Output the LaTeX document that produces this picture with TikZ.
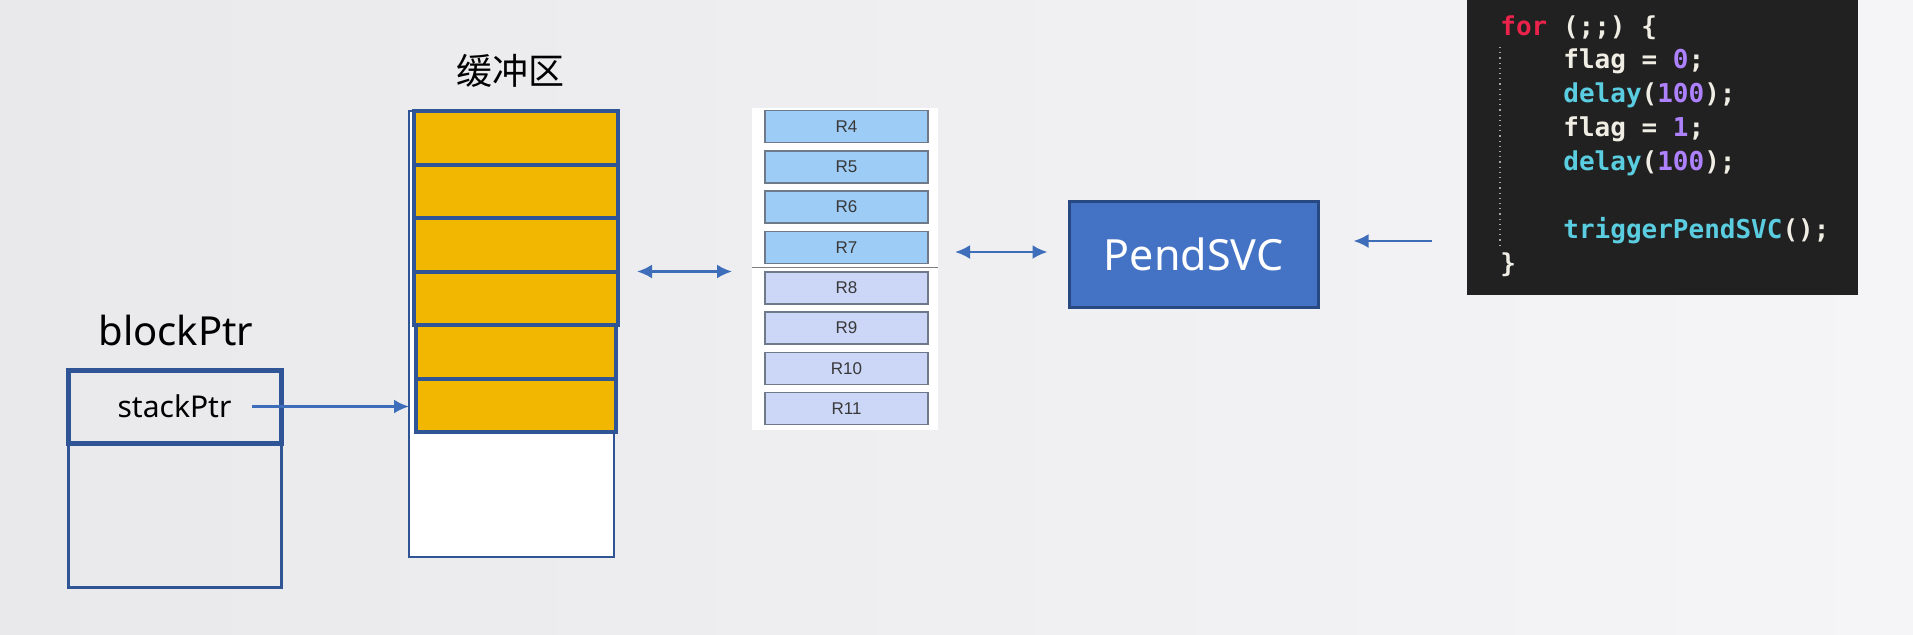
\documentclass[tikz,border=0pt]{standalone}
\usepackage{fontspec}
\setmainfont{Noto Sans}
\newfontfamily\cjk{Noto Sans CJK SC}
\newfontfamily\regfont{Liberation Sans}
\newfontfamily\codefont{DejaVu Sans Mono}
\usetikzlibrary{positioning,arrows.meta}

\definecolor{frameblue}{RGB}{47,85,151}
\definecolor{cellorange}{RGB}{242,183,0}
\definecolor{svcblue}{RGB}{68,114,196}
\definecolor{svcedge}{RGB}{40,72,130}
\definecolor{arrowblue}{RGB}{62,110,185}
\definecolor{regtop}{RGB}{157,204,246}
\definecolor{regbot}{RGB}{204,215,248}
\definecolor{regedge}{RGB}{110,122,138}
\definecolor{codebg}{RGB}{33,33,33}
\definecolor{codetxt}{RGB}{240,238,228}
\definecolor{codekey}{RGB}{235,35,75}
\definecolor{codenum}{RGB}{174,129,255}
\definecolor{codefun}{RGB}{90,205,225}

\tikzset{
  cell/.style={draw=frameblue,line width=2pt,fill=cellorange,minimum width=102pt,
    minimum height=26.75pt,inner sep=0pt,outer sep=0pt},
  ptrcell/.style={draw=frameblue,minimum width=106.5pt,inner sep=0pt,outer sep=0pt},
  reg/.style={draw=regedge,line width=0.8pt,minimum width=81.5pt,minimum height=16pt,
    inner sep=0pt,outer sep=0pt,text=black!78,font=\regfont\fontsize{8.5}{10}\selectfont},
  codeline/.style={anchor=base west,inner sep=0pt,text=codetxt,
    font=\codefont\bfseries\fontsize{13}{17}\selectfont},
  ptrarrow/.style={draw=arrowblue,line width=1.2pt,-{Latex[length=7.5pt,width=7pt]}},
  dblarrow/.style={ptrarrow,{Latex[length=7.5pt,width=7pt]}-{Latex[length=7.5pt,width=7pt]}},
}

\begin{document}
\begin{tikzpicture}[x=0.5pt,y=-0.5pt]
      \useasboundingbox (0,0) rectangle (1913,634);
      \shade[left color={rgb,255:red,233;green,233;blue,235},
        right color={rgb,255:red,245;green,245;blue,247}] (0,0) rectangle (1913,634);

      % code window
      \node[fill=codebg,minimum width=195.5pt,minimum height=150pt,inner sep=0pt,outer sep=0pt] (code) at (1662.5,145) {};
      \node[codeline] (l1) at (1500,35) {\textcolor{codekey}{for} (;;) \{};
      \node[codeline] (l2) at (1563,68.5) {flag = \textcolor{codenum}{0};};
      \node[codeline] (l3) at (1563,102.5) {\textcolor{codefun}{delay}(\textcolor{codenum}{100});};
      \node[codeline] (l4) at (1563,136.5) {flag = \textcolor{codenum}{1};};
      \node[codeline] (l5) at (1563,170) {\textcolor{codefun}{delay}(\textcolor{codenum}{100});};
      \node[codeline] (l6) at (1563,238) {\textcolor{codefun}{triggerPendSVC}();};
      \node[codeline] (l7) at (1500,272) {\}};
      \draw[gray!70,dotted,line width=0.6pt] ([yshift=-6pt]l1.base west) -- ([yshift=12pt]l7.base west);

      % buffer
      \node[anchor=base,font=\cjk\fontsize{18}{20}\selectfont] (buflabel) at (510,84) {缓冲区};
      \node[draw=frameblue,line width=1pt,fill=white,minimum width=102.5pt,minimum height=223pt,outer sep=0pt] (buf) at (511.5,334) {};
      \node[cell] (c1) at (516,137.75) {};
      \node[cell,below=0pt of c1] (c2) {};
      \node[cell,below=0pt of c2] (c3) {};
      \node[cell,below=0pt of c3] (c4) {};
      \node[cell,below=0pt of c4,minimum width=100pt] (c5) {};
      \node[cell,below=0pt of c5,minimum width=100pt] (c6) {};

      % block
      \node[ptrcell,line width=1.5pt,minimum height=72pt] (blk) at (174.5,515) {};
      \node[ptrcell,line width=2.5pt,minimum height=36.5pt,above=0pt of blk,
        font=\fontsize{15}{18}\selectfont] (sp) {stackPtr};
      \node[anchor=base,font=\fontsize{20}{24}\selectfont] (blklabel) at (176,345) {blockPtr};

      % registers
      \node[fill=white,minimum width=93pt,minimum height=161pt,outer sep=0pt] (regs) at (845,269) {};
      \node[reg,fill=regtop] (r4) at (846.5,126.5) {R4};
      \node[reg,fill=regtop,below=4.15pt of r4] (r5) {R5};
      \node[reg,fill=regtop,below=4.15pt of r5] (r6) {R6};
      \node[reg,fill=regtop,below=4.15pt of r6] (r7) {R7};
      \node[reg,fill=regbot,below=4.15pt of r7] (r8) {R8};
      \node[reg,fill=regbot,below=4.15pt of r8] (r9) {R9};
      \node[reg,fill=regbot,below=4.15pt of r9] (r10) {R10};
      \node[reg,fill=regbot,below=4.15pt of r10] (r11) {R11};
      \draw[gray,line width=0.9pt] ([yshift=-2pt]r7.south -| regs.west) -- ([yshift=-2pt]r7.south -| regs.east);

      % PendSVC
      \node[draw=svcedge,line width=1.5pt,fill=svcblue,text=white,minimum width=124.5pt,
        minimum height=53pt,font=\fontsize{21.5}{26}\selectfont] (svc) at (1193.5,254) {PendSVC};

      \draw[ptrarrow,shorten <=38.75pt] (sp.center) -- (sp.center -| buf.west);
      \draw[dblarrow,shorten <=9.5pt,shorten >=10pt] (c4.north east) -- (c4.north east -| regs.west);
      \draw[dblarrow,shorten <=8.5pt,shorten >=10pt] ([yshift=1pt]svc.west -| regs.east) -- ([yshift=1pt]svc.west);
      \draw[ptrarrow,shorten <=17.5pt,shorten >=17pt] ([yshift=6.5pt]svc.east -| code.west) -- ([yshift=6.5pt]svc.east);
    \end{tikzpicture}
\end{document}
